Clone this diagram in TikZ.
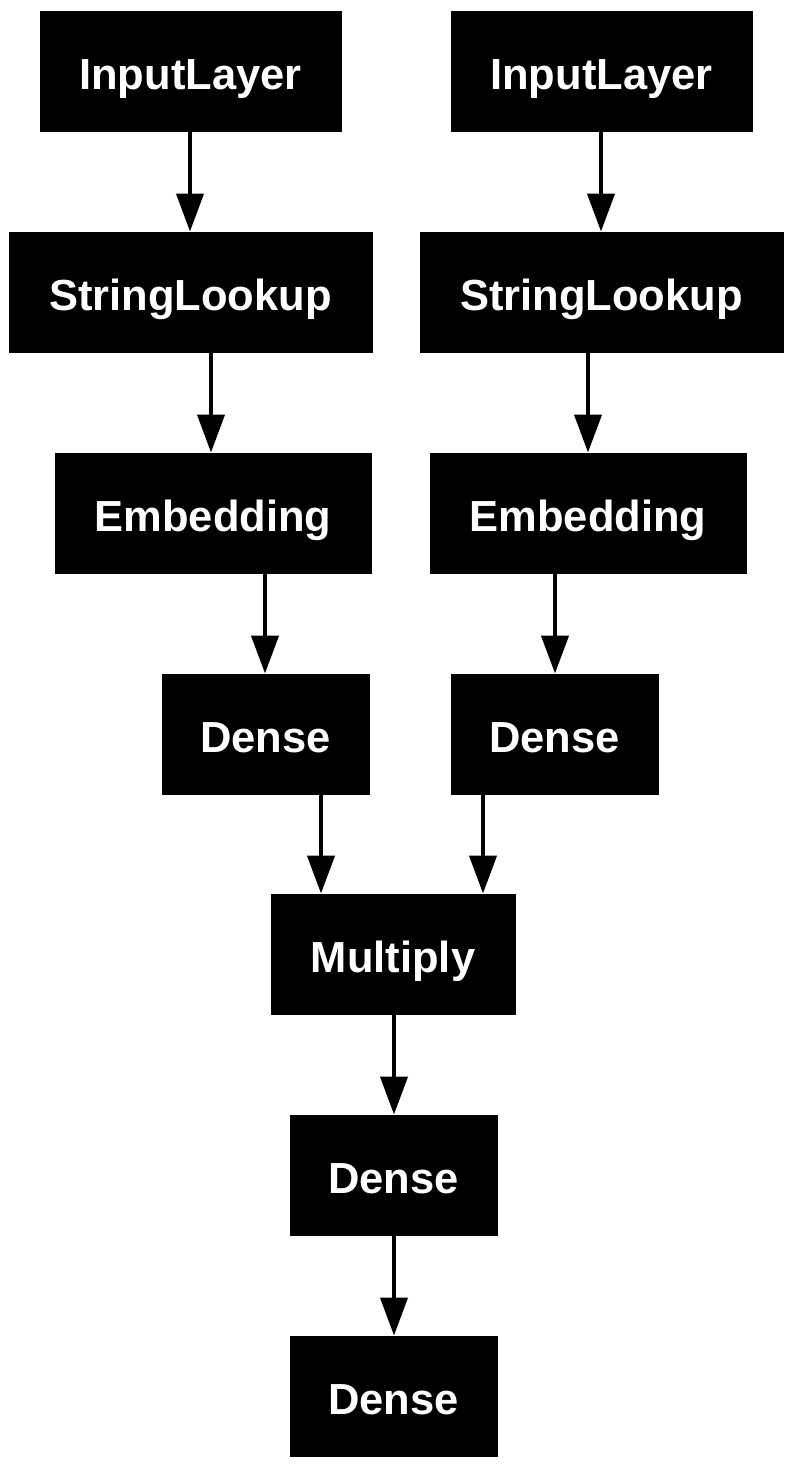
\documentclass[tikz,border=0pt]{standalone}
\usepackage{fontspec}
\setmainfont{Liberation Sans}
\usetikzlibrary{arrows.meta}
\tikzset{
  layer/.style={fill=black, draw=black, text=white, inner sep=0pt, outer sep=0pt,
    font=\fontsize{43.5}{50}\selectfont\bfseries, text height=36pt, text depth=0pt},
  arr/.style={line width=4.3pt, -{Triangle[length=38pt,width=27pt]}, shorten >=0.5pt}
}
\begin{document}
\begin{tikzpicture}[x=1pt,y=-1pt]
\useasboundingbox (0,0) rectangle (793,1468);
\newcommand{\lbox}[6]{\node[layer, minimum width=#3-#2, minimum height=#5-#4] (#1) at ({(#2+#3)/2},{(#4+#5)/2}) {#6};}
\lbox{ilA}{40}{341}{11}{131}{InputLayer}
\lbox{ilB}{451}{752}{11}{131}{InputLayer}
\lbox{slA}{9}{372}{232}{352}{StringLookup}
\lbox{slB}{420}{783}{232}{352}{StringLookup}
\lbox{emA}{55}{371}{453}{573}{Embedding}
\lbox{emB}{430}{746}{453}{573}{Embedding}
\lbox{dnA}{162}{369}{674}{794}{Dense}
\lbox{dnB}{451}{658}{674}{794}{Dense}
\lbox{mul}{271}{515}{894}{1014}{Multiply}
\lbox{dnC}{290}{497}{1115}{1235}{Dense}
\lbox{dnD}{290}{497}{1336}{1456}{Dense}
\draw[arr] (ilA.south -| 190,0) -- (slA.north -| 190,0);
\draw[arr] (slA.south -| 211,0) -- (emA.north -| 211,0);
\draw[arr] (emA.south -| 265,0) -- (dnA.north -| 265,0);
\draw[arr] (dnA.south -| 321,0) -- (mul.north -| 321,0);
\draw[arr] (ilB.south -| 601,0) -- (slB.north -| 601,0);
\draw[arr] (slB.south -| 588,0) -- (emB.north -| 588,0);
\draw[arr] (emB.south -| 555,0) -- (dnB.north -| 555,0);
\draw[arr] (dnB.south -| 483,0) -- (mul.north -| 483,0);
\draw[arr] (mul.south -| 394,0) -- (dnC.north -| 394,0);
\draw[arr] (dnC.south -| 394,0) -- (dnD.north -| 394,0);
\end{tikzpicture}
\end{document}
